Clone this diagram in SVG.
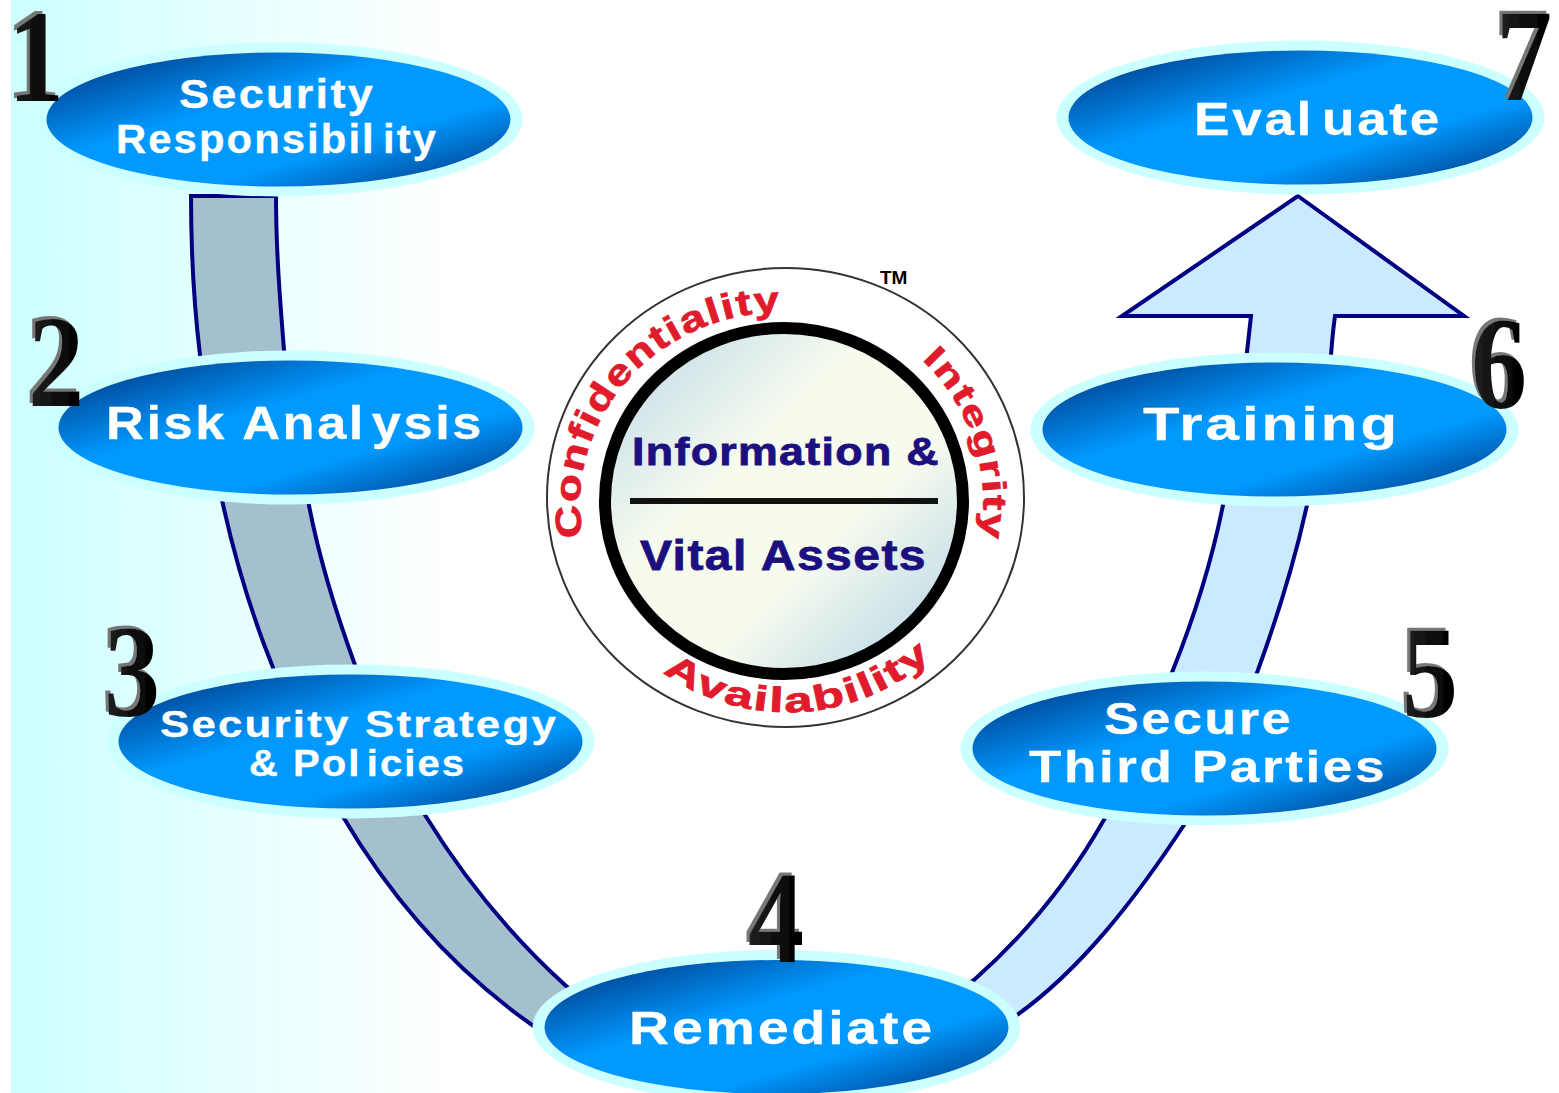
<svg xmlns="http://www.w3.org/2000/svg" width="1559" height="1093" viewBox="0 0 1559 1093">
<style>
.halo{fill:#ccffff}
.oval{fill:url(#ov)}
.lbl{font-family:"Liberation Sans",Arial,sans-serif;font-weight:700;fill:#fff;stroke:#fff;stroke-width:.3;letter-spacing:.05em}
.num{font-family:"Liberation Serif","Times New Roman",serif;font-weight:700;font-size:132px;text-anchor:middle;fill:url(#nm);filter:url(#bevel)}
.rib{stroke:#000080;stroke-width:4;stroke-linejoin:miter}
.ring{font-family:"Liberation Sans",Arial,sans-serif;font-weight:700;fill:#e01c2c;stroke:#e01c2c;stroke-width:.8;letter-spacing:.04em}
.core{font-family:"Liberation Sans",Arial,sans-serif;font-weight:700;fill:#1c1080;stroke:#1c1080;stroke-width:.8;letter-spacing:.03em}
</style>
<defs>
<linearGradient id="bg" x1="0" x2="1" y1="0" y2="0"><stop offset="0" stop-color="#ccffff"/><stop offset="1" stop-color="#fff"/></linearGradient>
<linearGradient id="ov" x1="0" y1="0" x2="1" y2="1"><stop offset="0.11" stop-color="#004a9a"/><stop offset="0.40" stop-color="#0099ff"/><stop offset="0.67" stop-color="#0099ff"/><stop offset="0.91" stop-color="#004a9a"/></linearGradient>
<linearGradient id="nm" x1="0" y1="0" x2="1" y2="0"><stop offset="0" stop-color="#222"/><stop offset="0.6" stop-color="#0a0a0a"/><stop offset="1" stop-color="#000"/></linearGradient>
<linearGradient id="cr" x1="0.1" y1="0.1" x2="0.9" y2="0.9"><stop offset="0.05" stop-color="#cfe4ea"/><stop offset="0.35" stop-color="#f7fbee"/><stop offset="0.65" stop-color="#f7fbee"/><stop offset="0.95" stop-color="#c8dfe8"/></linearGradient>
<filter id="bevel" x="-30%" y="-30%" width="160%" height="160%">
<feOffset in="SourceAlpha" dx="-3" dy="-3" result="o"/>
<feFlood flood-color="#777"/>
<feComposite in2="o" operator="in" result="g"/>
<feMerge><feMergeNode in="g"/><feMergeNode in="SourceGraphic"/></feMerge>
</filter>
<path id="arcC" d="M583,537 A203,192 0 0 1 775,312"/>
<path id="arcI" d="M922,360 A197,197 0 0 1 980,540"/>
<path id="arcA" d="M663,672 A214,214 0 0 0 928,660"/>
</defs>
<rect x="11" y="0" width="440" height="1093" fill="url(#bg)"/>
<g id="connectors">
<path class="rib" fill="#a4bfce" d="M191,196 L276,196 C276,250 280,300 284,350 C287,400 295,450 308,500 C318,555 335,610 355,665 C375,720 395,768 425,815 C465,880 510,935 565,985 L620,1030 L590,1060 L535,1027 C460,975 395,905 342,815 C315,770 292,720 272,665 C252,615 235,560 222,500 C212,455 206,405 200,355 C194,305 191,250 191,196 Z"/>
<path class="rib" fill="#cbeaff" d="M1298,196 L1464,316 L1335,316 C1333,330 1332,342 1331,355 C1326,410 1318,460 1307,505 C1295,560 1278,615 1258,670 C1238,725 1215,775 1186,822 C1135,900 1080,970 1017,1015 L960,1060 L930,1010 L974,980 C1025,935 1070,880 1105,818 C1130,770 1153,720 1173,670 C1195,615 1212,560 1223,505 C1235,455 1243,400 1247,352 L1251,316 L1122,316 Z"/>
</g>
<g id="emblem">
<ellipse cx="785.500" cy="497.500" rx="238.500" ry="229.500" fill="#fff" stroke="#333" stroke-width="2"/>
<ellipse cx="784" cy="501" rx="179" ry="173" fill="url(#cr)" stroke="#000" stroke-width="12"/>
<line x1="630" y1="501" x2="938" y2="501" stroke="#111" stroke-width="6"/>
<text class="core" x="632" y="465" font-size="39" textLength="308" lengthAdjust="spacingAndGlyphs">Information &amp;</text>
<text class="core" x="640" y="570" font-size="43" textLength="287" lengthAdjust="spacingAndGlyphs">Vital Assets</text>
<text class="ring" font-size="36"><textPath href="#arcC" textLength="342" lengthAdjust="spacingAndGlyphs">Confidentiality</textPath></text>
<text class="ring" font-size="33"><textPath href="#arcI" textLength="196" lengthAdjust="spacingAndGlyphs">Integrity</textPath></text>
<text class="ring" font-size="35"><textPath href="#arcA" textLength="292" lengthAdjust="spacingAndGlyphs">Availability</textPath></text>
<text x="880" y="284" font-family="Liberation Sans,Arial,sans-serif" font-weight="700" font-size="19" fill="#000">TM</text>
</g>
<g id="node1">
<ellipse class="halo" cx="278.500" cy="119.500" rx="244" ry="77"/>
<ellipse class="oval" cx="278.500" cy="119.500" rx="232" ry="67"/>
<text class="lbl" x="179" y="108" font-size="41" textLength="196" lengthAdjust="spacingAndGlyphs">Security</text>
<text class="lbl" x="116" y="153" font-size="41" textLength="322" lengthAdjust="spacingAndGlyphs">Responsibil<tspan dx="7">ity</tspan></text>
<text class="num" transform="translate(36,101) scale(.85,1)">1</text>
</g>
<g id="node2">
<ellipse class="halo" cx="290.500" cy="427.500" rx="244" ry="77"/>
<ellipse class="oval" cx="290.500" cy="427.500" rx="232" ry="67"/>
<text class="lbl" x="106" y="439" font-size="46" textLength="378" lengthAdjust="spacingAndGlyphs">Risk Anal<tspan dx="5">ysis</tspan></text>
<text class="num" transform="translate(56,406) scale(.85,1)">2</text>
</g>
<g id="node3">
<ellipse class="halo" cx="350.500" cy="741.500" rx="244" ry="77"/>
<ellipse class="oval" cx="350.500" cy="741.500" rx="232" ry="67"/>
<text class="lbl" x="160" y="737" font-size="37" textLength="398" lengthAdjust="spacingAndGlyphs">Security Strategy</text>
<text class="lbl" x="249" y="776" font-size="37" textLength="217" lengthAdjust="spacingAndGlyphs">&amp; Pol<tspan dx="5">icies</tspan></text>
<text class="num" transform="translate(132,716) scale(.85,1)">3</text>
</g>
<g id="node4">
<ellipse class="halo" cx="776.500" cy="1027" rx="244" ry="77"/>
<ellipse class="oval" cx="776.500" cy="1027" rx="232" ry="67"/>
<text class="lbl" x="629" y="1044" font-size="47" textLength="306" lengthAdjust="spacingAndGlyphs">Remediate</text>
<text class="num" transform="translate(776,962) scale(.85,1)">4</text>
</g>
<g id="node5">
<ellipse class="halo" cx="1204.500" cy="748.500" rx="244" ry="77"/>
<ellipse class="oval" cx="1204.500" cy="748.500" rx="232" ry="67"/>
<text class="lbl" x="1104" y="734" font-size="44" textLength="189" lengthAdjust="spacingAndGlyphs">Secure</text>
<text class="lbl" x="1029" y="782" font-size="44" textLength="358" lengthAdjust="spacingAndGlyphs">Third Parties</text>
<text class="num" transform="translate(1430,717) scale(.85,1)">5</text>
</g>
<g id="node6">
<ellipse class="halo" cx="1274.500" cy="429.500" rx="244" ry="77"/>
<ellipse class="oval" cx="1274.500" cy="429.500" rx="232" ry="67"/>
<text class="lbl" x="1143" y="440" font-size="47" textLength="257" lengthAdjust="spacingAndGlyphs">Training</text>
<text class="num" transform="translate(1499,408) scale(.85,1)">6</text>
</g>
<g id="node7">
<ellipse class="halo" cx="1300.500" cy="117.500" rx="244" ry="77"/>
<ellipse class="oval" cx="1300.500" cy="117.500" rx="232" ry="67"/>
<text class="lbl" x="1194" y="135" font-size="47" textLength="248" lengthAdjust="spacingAndGlyphs">Eval<tspan dx="7">uate</tspan></text>
<text class="num" transform="translate(1524,100) scale(.85,1)">7</text>
</g>
</svg>
